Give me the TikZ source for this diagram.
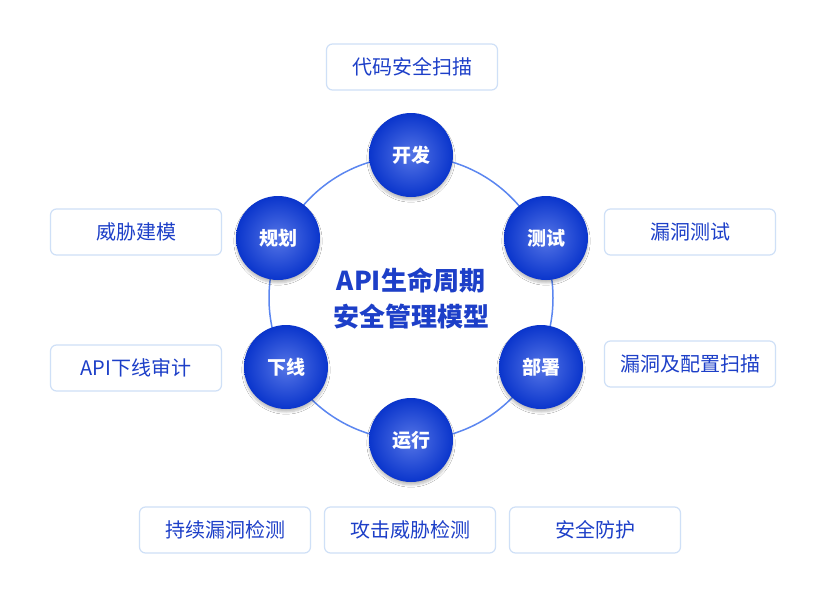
\documentclass[tikz,border=0pt]{standalone}
\usepackage{fontspec}
\setmainfont{Noto Sans CJK SC}
\usetikzlibrary{shadows.blur}
\definecolor{dk}{HTML}{0A35CC}
\definecolor{lt}{HTML}{5575E6}
\definecolor{ring}{HTML}{5B86F0}
\definecolor{bd}{HTML}{CFE0F7}
\definecolor{tx}{HTML}{1D3FC8}
\begin{document}
\begin{tikzpicture}[x=1pt,y=-1pt,
  stage/.style={circle,minimum size=84pt,inner sep=0pt,inner color=lt,outer color=dk,text=white,font=\fontsize{19}{19}\selectfont\bfseries,blur shadow={shadow blur steps=6,shadow xshift=0pt,shadow yshift=-3pt,shadow opacity=25}},
  box/.style={draw=bd,line width=1.2pt,rounded corners=6pt,fill=white,minimum width=171pt,minimum height=46pt,text=tx,font=\fontsize{20}{20}\selectfont}]
\useasboundingbox (0,0) rectangle (828,598);
\fill[white] (0,0) rectangle (828,598);
\coordinate (c) at (411,298);
\draw[ring,line width=1.5pt] (c) circle (142);
\node[stage] (kf) at (411,155) {开发};
\node[stage] (cs) at (546,238) {测试};
\node[stage] (bs) at (541,367) {部署};
\node[stage] (yx) at (411,440) {运行};
\node[stage] (xx) at (286,367) {下线};
\node[stage] (gh) at (278,238) {规划};
\node[text=tx,font=\fontsize{26}{36}\selectfont\bfseries,align=center] (t) at (c) {API生命周期\\安全管理模型};
\node[box] (b1) at (412,67) {代码安全扫描};
\node[box] (b2) at (136,232) {威胁建模};
\node[box] (b3) at (690,232) {漏洞测试};
\node[box] (b4) at (136,368) {API下线审计};
\node[box] (b5) at (690,364) {漏洞及配置扫描};
\node[box] (b6) at (225,530) {持续漏洞检测};
\node[box] (b7) at (410,530) {攻击威胁检测};
\node[box] (b8) at (595,530) {安全防护};
\end{tikzpicture}
\end{document}
